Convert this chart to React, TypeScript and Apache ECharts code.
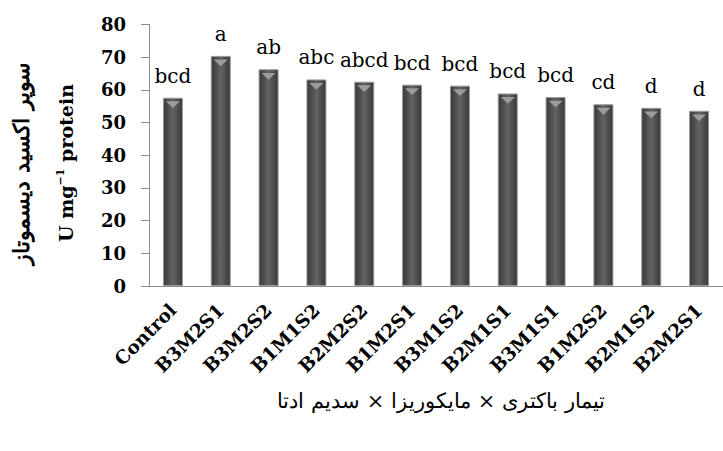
import React, { useEffect, useRef } from "react";
import * as echarts from "echarts";

const categories = ["Control", "B3M2S1", "B3M2S2", "B1M1S2", "B2M2S2", "B1M2S1", "B3M1S2", "B2M1S1", "B3M1S1", "B1M2S2", "B2M1S2", "B2M2S1"];
const values = [57.6, 70.4, 66.3, 63.2, 62.5, 61.6, 61.3, 58.9, 57.8, 55.6, 54.5, 53.6];
const letters = ["bcd", "a", "ab", "abc", "abcd", "bcd", "bcd", "bcd", "bcd", "cd", "d", "d"];
const yMin = 0;
const yMax = 80;
const yStep = 10;
const yTitleFa = "سوپر اکسید دیسموتاز";
const xTitleFa = "تیمار باکتری × مایکوریزا × سدیم ادتا";

const SERIF = "DejaVu Serif";

export default function App() {
  const ref = useRef<HTMLDivElement>(null);
  useEffect(() => {
    if (!ref.current) return;
    const chart = echarts.init(ref.current, undefined, { renderer: "svg" });
    const barGradient = new echarts.graphic.LinearGradient(0, 0, 1, 0, [
      { offset: 0, color: "#383838" },
      { offset: 0.5, color: "#636363" },
      { offset: 1, color: "#383838" },
    ]);
    chart.setOption({
      animation: false,
      backgroundColor: "#ffffff",
      textStyle: { fontFamily: SERIF },
      grid: { left: 149, top: 24.5, height: 261.5, width: 583, containLabel: false },
      xAxis: {
        type: "category",
        data: categories,
        axisLine: { lineStyle: { color: "#8c8c8c", width: 1 } },
        axisTick: { show: false },
        axisLabel: {
          interval: 0,
          rotate: 45,
          margin: 21,
          color: "#000",
          fontFamily: SERIF,
          fontWeight: "bold",
          fontSize: 18.5,
        },
      },
      yAxis: {
        type: "value",
        min: yMin,
        max: yMax,
        interval: yStep,
        splitLine: { show: false },
        axisLine: { show: true, lineStyle: { color: "#8c8c8c", width: 1 } },
        axisTick: { show: true, length: 8, lineStyle: { color: "#8c8c8c" } },
        axisLabel: {
          margin: 23,
          color: "#000",
          fontFamily: SERIF,
          fontWeight: "bold",
          fontSize: 18,
        },
      },
      series: [
        {
          type: "bar",
          data: values,
          barWidth: 20,
          itemStyle: { color: barGradient, borderColor: "#9a9a9a", borderWidth: 1 },
          label: {
            show: true,
            position: "top",
            distance: 12,
            color: "#000",
            fontFamily: SERIF,
            fontSize: 20,
            formatter: (p: any) => letters[p.dataIndex],
          },
        },
        {
          type: "pictorialBar",
          data: values,
          symbol: "triangle",
          symbolRotate: 180,
          symbolSize: [14, 7],
          symbolPosition: "end",
          symbolOffset: [0, "50%"],
          itemStyle: { color: "#9c9c9c" },
          z: 5,
          silent: true,
        },
      ],
      graphic: [
        {
          type: "text",
          x: 21,
          y: 164,
          rotation: Math.PI / 2,
          style: {
            text: yTitleFa,
            fontFamily: SERIF,
            fontWeight: "bold",
            fontSize: 22,
            fill: "#000",
            align: "center",
            verticalAlign: "middle",
          },
        },
        {
          type: "text",
          x: 66,
          y: 163,
          rotation: Math.PI / 2,
          style: {
            text: "{b|U mg}{s|−1}{b| protein}",
            align: "center",
            verticalAlign: "middle",
            rich: {
              b: { fontFamily: SERIF, fontWeight: "bold", fontSize: 19, fill: "#000", lineHeight: 22 },
              s: { fontFamily: SERIF, fontWeight: "bold", fontSize: 11, fill: "#000", verticalAlign: "top", lineHeight: 22 },
            },
          },
        },
        {
          type: "text",
          x: 441,
          y: 401,
          style: {
            text: xTitleFa,
            fontFamily: SERIF,
            fontSize: 21,
            fill: "#000",
            align: "center",
            verticalAlign: "middle",
          },
        },
      ],
    });
    return () => chart.dispose();
  }, []);
  return (
    <div
      ref={ref}
      style={{ position: "fixed", left: 0, top: 0, width: 723, height: 451, background: "#fff" }}
    />
  );
}
